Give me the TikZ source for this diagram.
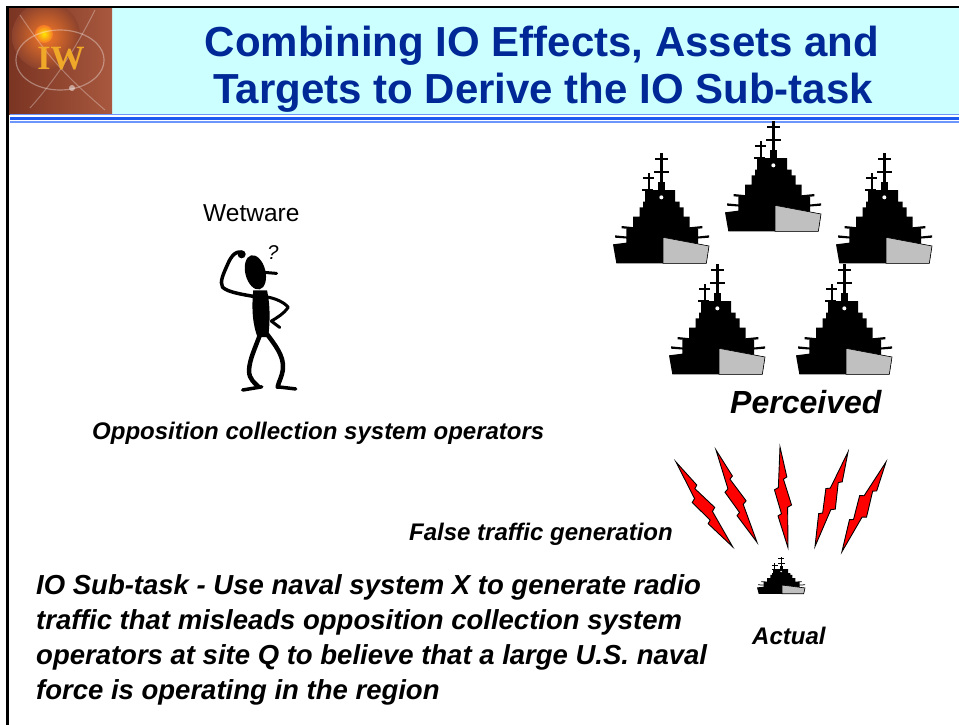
\documentclass[tikz,border=0pt]{standalone}
\usepackage{fontspec}
\setmainfont{Liberation Sans}
\newfontfamily\logofont{Liberation Serif}
\usetikzlibrary{calc}

\definecolor{titleblue}{RGB}{0,40,150}
\definecolor{bandcyan}{RGB}{204,255,255}
\definecolor{rulelight}{RGB}{110,150,250}
\definecolor{ruledark}{RGB}{30,90,240}
\definecolor{hullgray}{RGB}{192,192,192}
\definecolor{logobrown}{RGB}{122,52,34}
\definecolor{logolight}{RGB}{168,88,62}
\definecolor{logoglow}{RGB}{245,120,40}
\definecolor{logogold}{RGB}{240,168,40}
\definecolor{boltred}{RGB}{255,0,0}

\tikzset{
  titletext/.style={font=\fontsize{42}{46}\selectfont\bfseries, text=titleblue, inner sep=0pt},
  caption/.style={font=\fontsize{24}{28}\selectfont\bfseries\itshape, inner sep=0pt, anchor=base west},
  bodyline/.style={font=\fontsize{27.5}{35}\selectfont\bfseries\itshape, inner sep=0pt, anchor=base west},
  % battleship silhouette, drawn in its own units (origin = lower left of hull)
  warship/.pic={
    \begin{scope}[shift={(-40,-432)}]
      % masts and yards
      \fill (182,98) rectangle (189,200);
      \fill (167,113) rectangle (204,119);
      \fill (163,152) rectangle (208,159);
      \fill (144,158) rectangle (150,232);
      \fill (131,170) rectangle (163,176);
      \fill (128,208) rectangle (160,214);
      % funnel
      \fill (176,186) rectangle (197,212);
      % stepped superstructure and hull
      \fill (136,210) -- (226,210) -- (226,245) -- (240,245) -- (240,262)
        -- (252,262) -- (252,290) -- (270,290) -- (270,325) -- (295,325)
        -- (295,372) -- (328,378) -- (320,430) -- (50,430) -- (40,373)
        -- (80,368) -- (80,325) -- (100,325) -- (100,290) -- (120,290)
        -- (120,262) -- (130,262) -- (130,245) -- (136,245) -- cycle;
      % guns
      \fill (66,318) -- (106,322) -- (106,328) -- (66,325) -- cycle;
      \fill (46,346) -- (86,350) -- (86,356) -- (46,353) -- cycle;
      \fill (268,322) -- (308,318) -- (308,325) -- (268,328) -- cycle;
      \fill (290,350) -- (328,346) -- (328,353) -- (290,356) -- cycle;
      % bow plating
      \filldraw[fill=hullgray, draw=black, line width=0.6pt]
        (190,352) -- (328,378) -- (320,430) -- (190,430) -- cycle;
      % bridge light
      \fill[white] (185,232) circle (6);
    \end{scope}
  },
  % lightning bolt, tip at origin, running 100 units downwards
  boltshape/.pic={
    \filldraw[fill=boltred, draw=black, line width=0.9pt, line join=miter]
      (0,0) -- (5,30) -- (1.5,32) -- (8,58) -- (4,60) -- (2,100)
      -- (-6,68) -- (-2.5,66) -- (-8,42) -- (-4,40) -- cycle;
  }
}

\begin{document}
\begin{tikzpicture}[x=1pt, y=-1pt]
\useasboundingbox (0,0) rectangle (959,725);
\fill[white] (0,0) rectangle (959,725);

% ---------- header ----------
\fill[bandcyan] (112,8) rectangle (959,114);
\begin{scope}
  \clip (8,8) rectangle (112,114);
  \shade[left color=logobrown, right color=logolight] (8,8) rectangle (112,114);
  \shade[inner color=logoglow, outer color=logobrown!60!logolight] (46,36) circle (34);
  \shade[inner color=yellow!80!orange, outer color=logoglow] (44,34) circle (9);
  \draw[white, opacity=0.35, line width=1.2pt] (60,60) ellipse (44 and 30);
  \draw[white, opacity=0.3, line width=1pt] (20,15) .. controls (50,60) and (70,80) .. (105,110);
  \draw[white, opacity=0.3, line width=1pt] (30,108) .. controls (55,80) and (75,50) .. (95,10);
  \fill[white, opacity=0.5] (72,88) circle (3);
  \node[inner sep=0pt, text=logogold, font=\logofont\bfseries\fontsize{34}{34}\selectfont] (logo) at (61,59) {IW};
\end{scope}

\draw[rulelight, line width=1.5pt] (10,114.5) -- (959,114.5);
\draw[ruledark, line width=3pt] (10,118.5) -- (959,118.5);
\draw[rulelight, line width=1.5pt] (10,122) -- (959,122);

\draw[line width=2.5pt] (7.5,6) -- (7.5,725);
\draw[line width=2.5pt] (6,7) -- (959,7);

\node[titletext, anchor=base] (title1) at (542,57) {Combining IO Effects, Assets and};
\node[titletext, anchor=base] (title2) at (543,103) {Targets to Derive the IO Sub-task};

% ---------- wetware ----------
\node[inner sep=0pt, anchor=base west, font=\fontsize{24.5}{28}\selectfont] (wetware) at (203,221) {Wetware};

\begin{scope}[line cap=round, line join=round, scale around={1.06:(266,390)}]
  \fill[rotate around={14:(256,279)}] (256,279) ellipse (9.5 and 16.5);
  \draw[line width=3pt] (264,279) -- (276,280);
  \fill (243,262) circle (3.8);
  \draw[line width=3.5pt] (245,261) .. controls (238,257) and (233,264) .. (230,271)
     .. controls (226,280) and (222,288) .. (225,293) .. controls (230,298) and (245,300) .. (256,302);
  \fill (254,296) .. controls (252,315) and (254,330) .. (258,340) -- (268,340)
     .. controls (270,325) and (270,310) .. (267,296) -- cycle;
  \draw[line width=3pt] (265,302) .. controls (275,303) and (284,308) .. (287,312)
     .. controls (283,318) and (276,322) .. (271,325) -- (279,331);
  \draw[line width=4.5pt] (261,336) .. controls (256,350) and (250,362) .. (250,372)
     .. controls (250,380) and (256,384) .. (259,387);
  \draw[line width=4.5pt] (266,336) .. controls (275,348) and (283,358) .. (282,370)
     .. controls (281,378) and (278,382) .. (277,387);
  \draw[line width=3.5pt] (244,390) -- (262,387);
  \draw[line width=3.5pt] (277,387) -- (294,389);
\end{scope}
\node[inner sep=0pt, font=\fontsize{20}{20}\selectfont\itshape] (puzzle) at (273,253) {?};

\node[caption] (operators) at (92,439) {Opposition collection system operators};

% ---------- perceived fleet ----------
\pic[scale=1/3] at (613,264) {warship};
\pic[scale=1/3] at (725,232) {warship};
\pic[scale=1/3] at (836,264) {warship};
\pic[scale=1/3] at (669,375) {warship};
\pic[scale=1/3] at (796,375) {warship};

\node[inner sep=0pt, anchor=base west, font=\fontsize{32}{36}\selectfont\bfseries\itshape] (perceived) at (730,413) {Perceived};

% ---------- radio bursts ----------
\pic[rotate=32.6, scale=1.02] at (676,462) {boltshape};
\pic[rotate=22.8, scale=1.01] at (716,450) {boltshape};
\pic[rotate=3.4, scale=1.01] at (780,447) {boltshape};
\pic[rotate=-20.4, scale=1.00] at (848,452) {boltshape};
\pic[rotate=-27.3, scale=1.00] at (886,462) {boltshape};

\node[caption] (falsetraffic) at (409,540) {False traffic generation};

% ---------- actual ship ----------
\pic[xscale=1/6, yscale=0.112] at (757,594) {warship};
\node[caption] (actual) at (752,644) {Actual};

% ---------- sub-task statement ----------
\node[bodyline] (task1) at (36,594) {IO Sub-task - Use naval system X to generate radio};
\node[bodyline] (task2) at (36,629) {traffic that misleads opposition collection system};
\node[bodyline] (task3) at (36,664) {operators at site Q to believe that a large U.S. naval};
\node[bodyline] (task4) at (36,699) {force is operating in the region};

\end{tikzpicture}
\end{document}
